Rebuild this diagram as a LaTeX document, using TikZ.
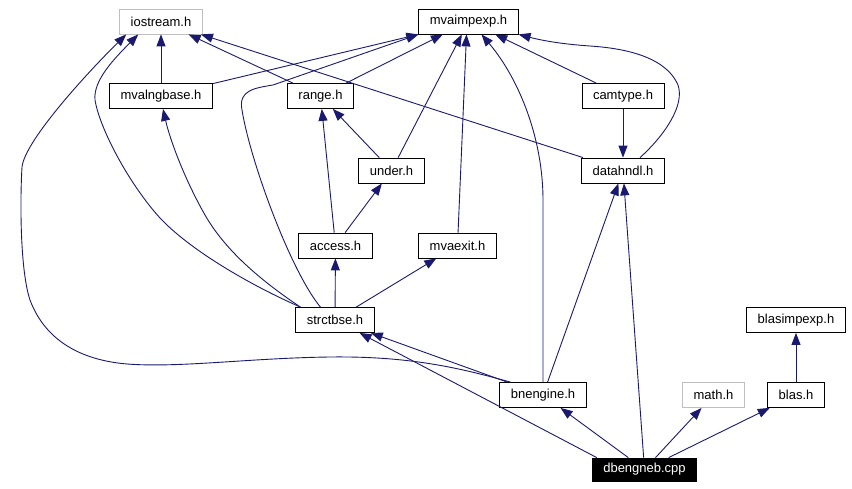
\documentclass[tikz,border=0pt]{standalone}
\usepackage{fontspec}
\setmainfont{Liberation Sans}
\usetikzlibrary{arrows.meta}
\definecolor{edgeblue}{RGB}{25,25,112}
\definecolor{sysgray}{RGB}{191,191,191}

\begin{document}
\begin{tikzpicture}[
    x=1pt, y=-1pt,
    ->, >={Triangle[length=12pt,width=9pt]}, line width=0.9pt, edgeblue,
    file/.style={rectangle, draw=black, fill=white, text=black, line width=0.8pt,
      minimum height=25pt, inner xsep=11pt, font=\fontsize{13}{15}\selectfont},
    sysfile/.style={file, draw=sysgray},
    mainfile/.style={file, fill=black, text=white, minimum height=23pt}
  ]
  \useasboundingbox (0,0) rectangle (852,489);

  % headers
  \node[sysfile] (iostream) at (161,21.5) {iostream.h};
  \node[file] (mvaimpexp) at (468.5,21.5) {mvaimpexp.h};
  \node[file] (mvalngbase) at (161,96) {mvalngbase.h};
  \node[file] (range) at (320.5,96) {range.h};
  \node[file] (camtype) at (623,96) {camtype.h};
  \node[file] (under) at (391.5,170.5) {under.h};
  \node[file] (datahndl) at (623,170.5) {datahndl.h};
  \node[file] (access) at (335.5,245.5) {access.h};
  \node[file] (mvaexit) at (457.5,245.5) {mvaexit.h};
  \node[file] (strctbse) at (335,320) {strctbse.h};
  \node[file] (blasimpexp) at (796,320) {blasimpexp.h};
  \node[file] (bnengine) at (543,395) {bnengine.h};
  \node[sysfile] (math) at (713.5,395) {math.h};
  \node[file] (blas) at (796,395) {blas.h};
  \node[mainfile] (dbengneb) at (644.5,469.5) {dbengneb.cpp};

  % includes of iostream.h
  \draw (mvalngbase) -- (iostream);
  \draw (range) -- (iostream);
  \draw (datahndl) -- (iostream);
  \draw ([xshift=5pt]strctbse.north west) .. controls (250,285) and (190,250) .. (160,218)
    .. controls (130,185) and (100,130) .. (95,100)
    .. controls (93,80) and (115,58) .. ([xshift=19pt]iostream.south west);
  \draw ([xshift=11pt]bnengine.north west) .. controls (460,368) and (410,356) .. (330,357)
    .. controls (250,358) and (180,368) .. (127,364)
    .. controls (80,360) and (45,340) .. (30,300)
    .. controls (20,270) and (20,200) .. (22,167)
    .. controls (25,140) and (90,70) .. ([xshift=7pt]iostream.south west);

  % includes of mvaimpexp.h
  \draw (mvalngbase) -- (mvaimpexp.south west);
  \draw ([xshift=25pt]strctbse.north west) .. controls (290,270) and (250,160) .. (242,110)
    .. controls (238,90) and (255,88) .. (273,85) -- (mvaimpexp.south west);
  \draw (range) -- (mvaimpexp);
  \draw (under) -- (mvaimpexp);
  \draw (mvaexit) -- ([xshift=-2pt]mvaimpexp.south);
  \draw (bnengine.north) -- (543,200) .. controls (543,140) and (520,80) .. ([xshift=13pt]mvaimpexp.south);
  \draw (camtype) -- (mvaimpexp);
  \draw ([xshift=17pt]datahndl.north) .. controls (665,135) and (685,105) .. (678,85)
    .. controls (665,55) and (620,48) .. (590,46)
    .. controls (560,44) and (540,40) .. (mvaimpexp.south east);

  % other includes
  \draw (under) -- (range);
  \draw (access) -- (range);
  \draw (access) -- (under);
  \draw (camtype) -- (datahndl);
  \draw (strctbse) -- (access);
  \draw (strctbse) -- (mvaexit);
  \draw ([xshift=5pt]strctbse.north west) .. controls (260,280) and (225,250) .. (205,215)
    .. controls (185,180) and (170,140) .. ([xshift=2pt]mvalngbase.south);
  \draw (bnengine) -- (strctbse);
  \draw (bnengine) -- (datahndl);
  \draw (blas) -- (blasimpexp);

  % includes of dbengneb.cpp
  \draw (dbengneb.166) -- (strctbse);
  \draw (dbengneb) -- (datahndl);
  \draw (dbengneb) -- (bnengine);
  \draw (dbengneb) -- (math);
  \draw (dbengneb) -- (blas);
\end{tikzpicture}
\end{document}
